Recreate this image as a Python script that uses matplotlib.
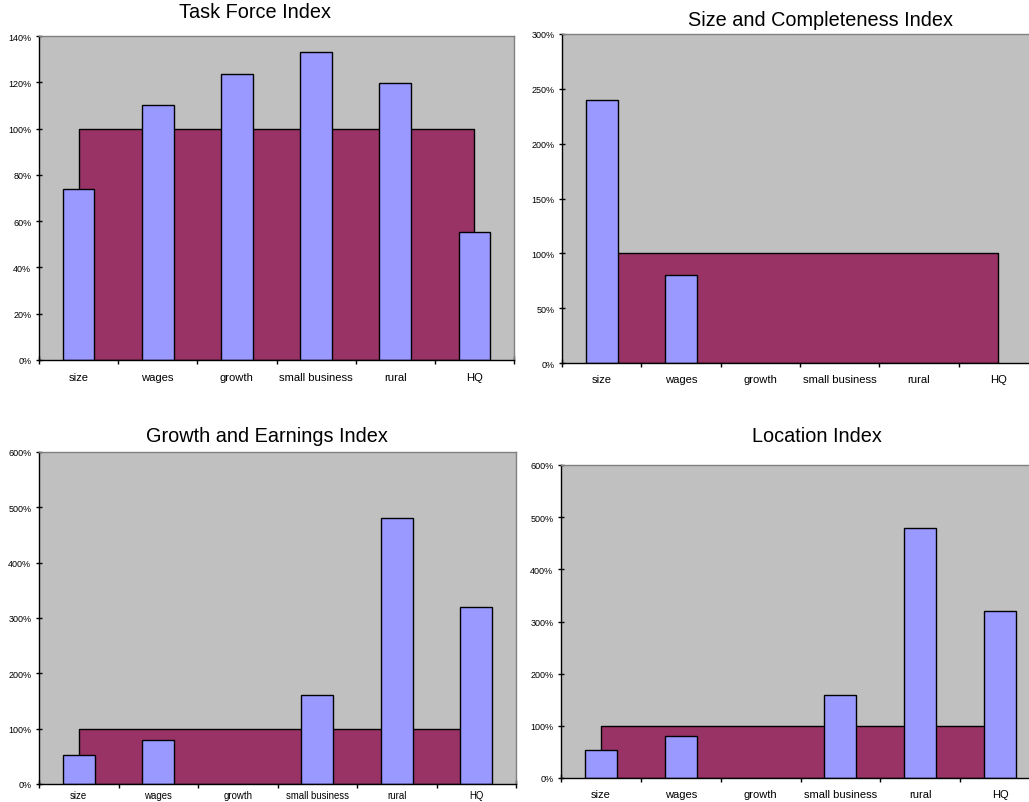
import matplotlib
matplotlib.use('Agg')
import matplotlib.pyplot as plt
import numpy as np
from matplotlib.ticker import FuncFormatter

plt.rcParams['font.family'] = ['Liberation Sans', 'DejaVu Sans']

# categories shared by all four charts
categories = ['size', 'wages', 'growth', 'small business', 'rural', 'HQ']

# reference line (100%) drawn as the maroon area
reference = [100, 100, 100, 100, 100, 100]

# index values in percent
task_force = [74, 110, 123.5, 133, 119.5, 55.5]
size_completeness = [240, 80, 0, 0, 0, 0]
growth_earnings = [52.5, 80, 0, 160, 480, 320]
location = [53, 80, 0, 160, 480, 320]

W, H = 1029, 803
fig = plt.figure(figsize=(W / 100, H / 100), dpi=100)
fig.patch.set_facecolor('white')


def px_axes(left, top, right, bottom):
    # axes box given in pixels of the picture
    return fig.add_axes([left / W, 1 - bottom / H, (right - left) / W, (bottom - top) / H])


def draw(ax, values, ymax, ystep, xfont, xpad):
    n = len(categories)
    centers = np.arange(n) + 0.5
    heights = np.array(values, dtype=float)
    heights[heights == 0] = np.nan  # empty categories get no bar
    ax.set_facecolor('#C0C0C0')
    ax.fill_between(centers, 0, reference, facecolor='#993366', edgecolor='black',
                    linewidth=1.0, zorder=2)
    ax.bar(centers, heights, width=0.4, color='#9999FF', edgecolor='black',
           linewidth=1.0, zorder=3)
    ax.set_xlim(0, n)
    ax.set_ylim(0, ymax)
    ax.set_yticks(np.arange(0, ymax + 1, ystep))
    ax.yaxis.set_major_formatter(FuncFormatter(lambda v, p: '%d%%' % v))
    ax.set_xticks(np.arange(0, n + 1))
    ax.set_xticklabels([])
    ax.set_xticks(centers, minor=True)
    ax.set_xticklabels(categories, minor=True, fontsize=xfont)
    ax.tick_params(axis='x', which='minor', length=0, pad=xpad)
    ax.tick_params(axis='x', which='major', direction='inout', length=6, width=1)
    ax.tick_params(axis='y', direction='inout', length=5, width=1, labelsize=6.5, pad=3)
    for s in ['top', 'right']:
        ax.spines[s].set_color('#808080')
        ax.spines[s].set_linewidth(1.0)
    for s in ['left', 'bottom']:
        ax.spines[s].set_color('black')
        ax.spines[s].set_linewidth(1.0)
    ax.spines['bottom'].set_zorder(4)


ax1 = px_axes(39, 37, 514, 361)
draw(ax1, task_force, 140, 20, 8.1, 9)
ax2 = px_axes(562, 35, 1038, 364)
draw(ax2, size_completeness, 300, 50, 8.1, 8)
ax3 = px_axes(39, 453, 516, 785)
draw(ax3, growth_earnings, 600, 100, 6.9, 4.5)
ax4 = px_axes(561, 466, 1040, 779)
draw(ax4, location, 600, 100, 8.0, 8)

fig.text(255 / W, 1 - 13 / H, 'Task Force Index', ha='center', va='center', fontsize=14.3)
fig.text(820 / W, 1 - 21 / H, 'Size and Completeness Index', ha='center', va='center', fontsize=14.3)
fig.text(267 / W, 1 - 437 / H, 'Growth and Earnings Index', ha='center', va='center', fontsize=14.3)
fig.text(817 / W, 1 - 437 / H, 'Location Index', ha='center', va='center', fontsize=14.3)

plt.savefig('out.png', dpi=100)
